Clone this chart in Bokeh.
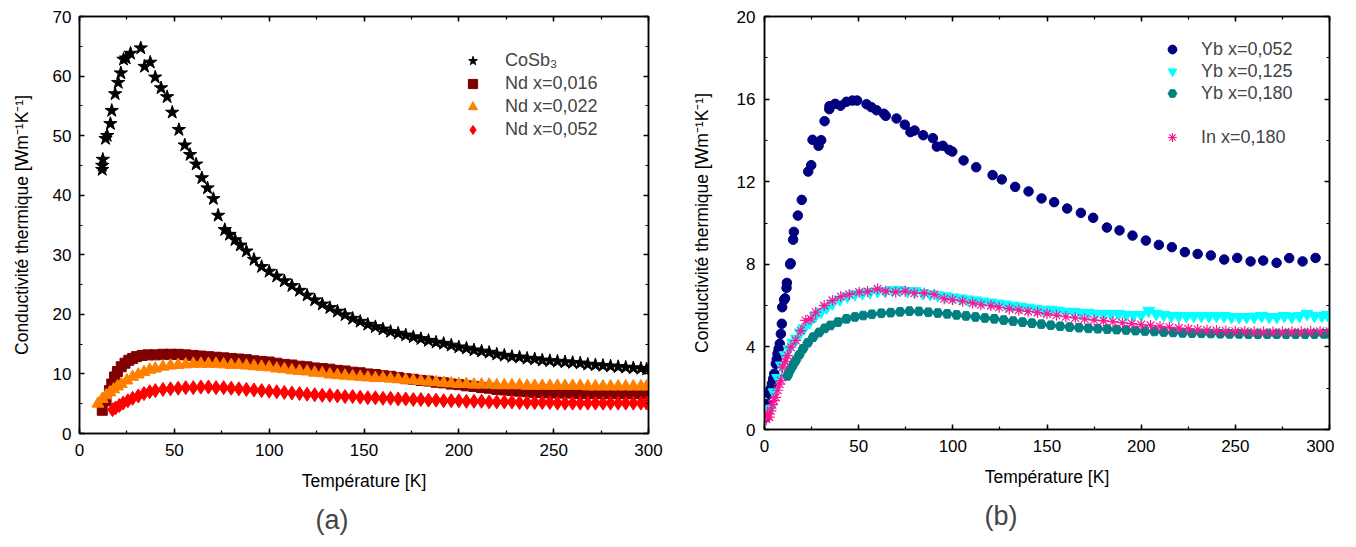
from bokeh.plotting import figure
from bokeh.layouts import row
from bokeh.models import Range1d, LinearAxis, SingleIntervalTicker, Legend, LegendItem, Title
from bokeh.embed import file_html
from bokeh.resources import INLINE

# ---------------- data (a) ----------------
cosb3_T = [12, 12, 12.3, 13.7, 14.6, 16.3, 17, 18.8, 20.4, 21.8, 23.2, 24.6, 26.9, 32.3, 34.3, 37.3,
           39.9, 43, 46.2, 48.9, 52.4, 55.5, 58.3, 61.5, 64.5, 67.5, 70.6, 73.1, 76.6, 79.1, 82, 84.8,
           88, 92, 96, 100, 104, 108, 112, 116, 120, 124, 128, 132, 136, 140, 144, 148, 152, 156, 160,
           164, 168, 172, 176, 180, 184, 188, 192, 196, 200, 204, 208, 212, 216, 220, 224, 228, 232,
           236, 240, 244, 248, 252, 256, 260, 264, 268, 272, 276, 280, 284, 288, 292, 296, 299]
cosb3_k = [44.3, 45, 46, 49.5, 50, 52, 54.2, 57, 58.9, 60.5, 62.8, 63, 63.8, 64.7, 61.6, 62.3,
           59.8, 58, 56.5, 53.9, 51, 48.4, 46.8, 45.2, 42.9, 41.2, 39.4, 36.6, 34.2, 33.4, 32.5, 31.6,
           30.6, 29.2, 28.0, 27.2, 26.4, 25.6, 24.8, 24.0, 23.2, 22.4, 21.7, 21.1, 20.5, 19.9, 19.3, 18.8,
           18.3, 17.9, 17.5, 17.1, 16.8, 16.5, 16.2, 15.9, 15.6, 15.3, 15.1, 14.8, 14.5, 14.3, 14.0, 13.8,
           13.6, 13.3, 13.1, 12.9, 12.8, 12.6, 12.5, 12.3, 12.2, 12.1, 12.0, 11.9, 11.8, 11.6, 11.5, 11.4,
           11.3, 11.2, 11.1, 11.0, 10.9, 10.8]

nd016_T = [12, 14, 15.8, 17, 18.5, 20, 22, 24, 26, 28, 30, 33, 36, 40, 44, 48, 52, 56, 60, 64, 68, 72,
           76, 80, 84, 88, 92, 96, 100, 104, 108, 112, 116, 120, 124, 128, 132, 136, 140, 144, 148, 152,
           156, 160, 164, 168, 172, 176, 180, 184, 188, 192, 196, 200, 204, 208, 212, 216, 220, 224, 228,
           232, 236, 240, 244, 248, 252, 256, 260, 264, 268, 272, 276, 280, 284, 288, 292, 296, 299]
nd016_k = [3.9, 5.5, 7.2, 8.3, 9.5, 10.4, 11.2, 11.8, 12.3, 12.6, 12.9, 13.1, 13.2, 13.2, 13.3, 13.3,
           13.3, 13.2, 13.1, 13.0, 12.9, 12.8, 12.7, 12.6, 12.5, 12.4, 12.2, 12.1, 12.0, 11.8, 11.6, 11.5,
           11.3, 11.2, 11.0, 10.9, 10.8, 10.6, 10.5, 10.3, 10.2, 10.0, 9.9, 9.7, 9.6, 9.4, 9.2, 9.1, 8.9,
           8.8, 8.6, 8.5, 8.3, 8.2, 8.0, 7.9, 7.7, 7.6, 7.4, 7.3, 7.2, 7.1, 7.0, 6.9, 6.9, 6.8, 6.8, 6.8,
           6.8, 6.7, 6.7, 6.7, 6.7, 6.7, 6.7, 6.7, 6.7, 6.7, 6.7]

nd022_T = [9.7, 12, 14, 16, 18, 20, 22, 25, 28, 31, 34, 37, 40, 44, 48, 52, 56, 60, 64, 68, 72, 76, 80,
           84, 88, 92, 96, 100, 104, 108, 112, 116, 120, 124, 128, 132, 136, 140, 144, 148, 152, 156,
           160, 164, 168, 172, 176, 180, 184, 188, 192, 196, 200, 204, 208, 212, 216, 220, 224, 228, 232,
           236, 240, 244, 248, 252, 256, 260, 264, 268, 272, 276, 280, 284, 288, 292, 296, 299]
nd022_k = [5.0, 5.8, 6.4, 6.9, 7.4, 7.9, 8.3, 8.9, 9.5, 9.9, 10.3, 10.7, 10.9, 11.2, 11.4, 11.5, 11.6,
           11.7, 11.7, 11.7, 11.7, 11.6, 11.5, 11.5, 11.4, 11.3, 11.2, 11.1, 10.9, 10.8, 10.6, 10.5, 10.4,
           10.2, 10.1, 9.9, 9.8, 9.7, 9.6, 9.5, 9.4, 9.3, 9.3, 9.2, 9.1, 9.0, 8.9, 8.8, 8.7, 8.6, 8.5,
           8.4, 8.3, 8.3, 8.2, 8.2, 8.2, 8.1, 8.1, 8.1, 8.1, 8.0, 8.0, 8.0, 8.0, 8.0, 8.0, 8.0, 8.0, 7.9,
           7.9, 7.9, 7.9, 7.9, 7.9, 7.9, 7.9, 7.9]

nd052_T = [17.4, 19, 21, 23, 25.5, 28, 31, 34, 37, 40, 44, 48, 52, 56, 60, 64, 68, 72, 76, 80, 84, 88,
           92, 96, 100, 104, 108, 112, 116, 120, 124, 128, 132, 136, 140, 144, 148, 152, 156, 160, 164,
           168, 172, 176, 180, 184, 188, 192, 196, 200, 204, 208, 212, 216, 220, 224, 228, 232, 236, 240,
           244, 248, 252, 256, 260, 264, 268, 272, 276, 280, 284, 288, 292, 296, 299]
nd052_k = [4.0, 4.3, 4.7, 5.1, 5.5, 5.9, 6.3, 6.7, 7.0, 7.2, 7.4, 7.5, 7.6, 7.7, 7.7, 7.8, 7.8, 7.7,
           7.7, 7.6, 7.5, 7.4, 7.3, 7.2, 7.1, 7.0, 6.9, 6.8, 6.7, 6.6, 6.5, 6.4, 6.4, 6.3, 6.2, 6.2, 6.1,
           6.0, 6.0, 5.9, 5.9, 5.8, 5.8, 5.7, 5.7, 5.6, 5.6, 5.5, 5.5, 5.5, 5.4, 5.4, 5.4, 5.3, 5.3, 5.3,
           5.3, 5.2, 5.2, 5.2, 5.2, 5.2, 5.1, 5.1, 5.1, 5.1, 5.1, 5.1, 5.1, 5.1, 5.1, 5.1, 5.1, 5.1, 5.1]

# ---------------- data (b) ----------------
yb052_T = [1.0, 1.6, 2.5, 3.2, 3.9, 4.6, 5.2, 6.0, 6.5, 6.9, 7.5, 8.1, 8.7, 9.2, 9.4, 10.4, 10.9, 11.7,
           11.9, 13.6, 13.9, 15.2, 15.6, 17.7, 19.8, 23.2, 24.8, 25.5, 28.7, 30.1, 31.9, 34.4, 34.5, 37.5,
           40.4, 43.5, 46.7, 49.2, 54.2, 56.7, 59.5, 63.4, 64.4, 70.1, 74.5, 77.5, 79.7, 84.3, 89.4, 91.5,
           94.7, 98.1, 99.7, 105.7, 112.4, 121.1, 126, 133.1, 140.2, 147.1, 153.8, 160.7, 168, 174.5,
           181.8, 188.5, 195.4, 202.5, 209.4, 216.3, 223.2, 230, 237, 244.1, 251, 258.1, 264.8, 271.9,
           278.6, 285.7, 292.6]
yb052_k = [0.6, 1.24, 1.73, 1.95, 2.21, 2.45, 2.7, 3.18, 3.4, 3.67, 3.9, 4.15, 4.63, 5.12, 5.92, 6.28,
           6.35, 6.86, 7.1, 8.0, 8.05, 9.19, 9.57, 10.36, 11.12, 12.49, 12.8, 14.03, 13.74, 14.01, 14.93,
           15.51, 15.66, 15.77, 15.68, 15.87, 15.93, 15.93, 15.75, 15.61, 15.46, 15.29, 15.19, 15.06,
           14.76, 14.4, 14.48, 14.25, 14.11, 13.7, 13.74, 13.54, 13.46, 13.03, 12.7, 12.32, 12.11, 11.75,
           11.53, 11.19, 11.01, 10.7, 10.49, 10.25, 9.78, 9.64, 9.39, 9.15, 8.94, 8.83, 8.59, 8.5, 8.43,
           8.23, 8.31, 8.14, 8.18, 8.07, 8.3, 8.14, 8.31]

yb125_T = [3, 5, 7, 9, 11, 13, 15, 17, 19, 21, 24, 27, 30, 33, 36, 40, 44, 48, 52, 56, 60, 64, 68, 72,
           76, 80, 84, 88, 92, 96, 100, 104, 108, 112, 116, 120, 124, 128, 132, 136, 140, 144, 148, 152,
           156, 160, 164, 168, 172, 176, 180, 184, 188, 192, 196, 200, 204, 208, 212, 216, 220, 224, 228,
           232, 236, 240, 244, 248, 252, 256, 260, 264, 268, 272, 276, 280, 284, 288, 292, 296, 299]
yb125_k = [1.0, 1.8, 2.5, 3.1, 3.6, 3.9, 4.2, 4.4, 4.7, 4.9, 5.2, 5.5, 5.7, 5.9, 6.1, 6.3, 6.45, 6.55,
           6.6, 6.65, 6.7, 6.7, 6.75, 6.75, 6.7, 6.7, 6.6, 6.55, 6.5, 6.45, 6.4, 6.35, 6.3, 6.25, 6.2,
           6.15, 6.1, 6.05, 6.0, 5.95, 5.9, 5.85, 5.8, 5.8, 5.75, 5.7, 5.7, 5.65, 5.65, 5.6, 5.6, 5.6, 5.6,
           5.55, 5.55, 5.55, 5.75, 5.6, 5.55, 5.5, 5.5, 5.5, 5.5, 5.5, 5.5, 5.5, 5.5, 5.45, 5.45, 5.45,
           5.45, 5.5, 5.45, 5.45, 5.5, 5.45, 5.5, 5.6, 5.5, 5.5, 5.55]

yb180_T = [12.2, 13, 14, 15, 16.6, 18.5, 20.5, 23, 25.8, 29, 32, 35, 39, 43.5, 48, 52.4, 57, 62, 67, 72,
           77, 82, 87, 92, 97, 102, 107, 112, 117, 122, 127, 132, 137, 142, 147, 152, 157, 162, 167, 172,
           177, 182, 187, 192, 197, 202, 207, 212, 217, 222, 227, 232, 237, 242, 247, 252, 257, 262, 267,
           272, 277, 282, 287, 292, 297, 300]
yb180_k = [2.6, 2.78, 2.95, 3.1, 3.34, 3.62, 3.91, 4.2, 4.47, 4.7, 4.9, 5.04, 5.2, 5.36, 5.45, 5.52,
           5.58, 5.63, 5.66, 5.7, 5.73, 5.72, 5.68, 5.64, 5.6, 5.55, 5.5, 5.45, 5.4, 5.36, 5.3, 5.25, 5.2,
           5.15, 5.1, 5.05, 5.0, 4.96, 4.93, 4.9, 4.88, 4.86, 4.84, 4.82, 4.79, 4.77, 4.75, 4.72, 4.7,
           4.68, 4.67, 4.66, 4.65, 4.64, 4.63, 4.63, 4.62, 4.62, 4.62, 4.62, 4.62, 4.62, 4.62, 4.62, 4.63,
           4.64]

in180_T = [1.0, 1.6, 2.5, 3.4, 4.2, 5.0, 6.0, 7.0, 8.0, 8.7, 9.6, 11, 12.2, 14, 16.6, 19.3, 21.9, 24.6,
           27.2, 31.7, 36.1, 40.5, 45, 50.3, 54.7, 60, 64.4, 69.7, 74.7, 79.5, 84.8, 90.1, 95.4, 99.8,
           105.2, 110.5, 114.9, 120.2, 124.6, 130, 135, 140, 145, 150, 155, 160, 165, 170, 175, 180, 185,
           190, 195, 200, 205, 210, 215, 220, 225, 230, 235, 240, 245, 250, 255, 260, 265, 270, 275, 280,
           285, 290, 295, 300]
in180_k = [0.5, 0.76, 0.6, 0.9, 1.2, 1.4, 1.56, 1.9, 2.2, 2.37, 3.02, 3.3, 3.58, 3.99, 4.31, 4.79, 5.28,
           5.36, 5.68, 6.0, 6.25, 6.44, 6.54, 6.65, 6.68, 6.81, 6.7, 6.65, 6.7, 6.6, 6.6, 6.54, 6.33, 6.28,
           6.21, 6.12, 6.04, 6.0, 5.92, 5.84, 5.78, 5.72, 5.66, 5.6, 5.53, 5.46, 5.4, 5.35, 5.3, 5.26, 5.22,
           5.17, 5.13, 5.08, 5.04, 4.99, 4.95, 4.91, 4.87, 4.84, 4.81, 4.79, 4.77, 4.76, 4.75, 4.73, 4.72,
           4.72, 4.72, 4.73, 4.73, 4.74, 4.75, 4.76]

FONT = "Liberation Sans"
XLABEL = "Température [K]"
YLABEL = "Conductivité thermique [Wm⁻¹K⁻¹]"


def make_fig(ymax, yint, fw, fh, bl, br, bb, tick_standoff, ylab_standoff):
    p = figure(output_backend="svg", toolbar_location=None,
               frame_width=fw, frame_height=fh,
               min_border_left=bl, min_border_right=br, min_border_top=16, min_border_bottom=bb,
               x_range=Range1d(0, 300), y_range=Range1d(0, ymax),
               x_axis_label=XLABEL, y_axis_label=YLABEL)
    p.grid.visible = False
    p.outline_line_color = "black"
    p.outline_line_width = 1.5
    p.xaxis.ticker = SingleIntervalTicker(interval=50, num_minor_ticks=2)
    p.yaxis.ticker = SingleIntervalTicker(interval=yint, num_minor_ticks=2)
    for ax in (p.xaxis[0], p.yaxis[0]):
        ax.major_tick_in = 5
        ax.major_tick_out = 0
        ax.minor_tick_in = 3
        ax.minor_tick_out = 0
        ax.axis_line_width = 1.5
        ax.major_tick_line_width = 1.5
        ax.minor_tick_line_width = 1.2
        ax.major_label_text_font = FONT
        ax.major_label_text_font_size = "17px"
        ax.major_label_text_color = "black"
        ax.axis_label_text_font = FONT
        ax.axis_label_text_font_size = "17.5px"
        ax.axis_label_text_font_style = "normal"
        ax.axis_label_text_color = "black"
    p.xaxis.major_label_standoff = 10
    p.xaxis.axis_label_standoff = 12
    p.yaxis.major_label_standoff = tick_standoff
    p.yaxis.axis_label_standoff = ylab_standoff
    # mirrored axes (ticks only, no labels)
    for side, tick in (("above", SingleIntervalTicker(interval=50, num_minor_ticks=2)),
                       ("right", SingleIntervalTicker(interval=yint, num_minor_ticks=2))):
        ax = LinearAxis(ticker=tick, major_label_text_font_size="0px", major_label_text_color=None,
                        major_label_standoff=0,
                        major_tick_in=5, major_tick_out=0, minor_tick_in=3, minor_tick_out=0,
                        axis_line_width=1.5, major_tick_line_width=1.5, minor_tick_line_width=1.2)
        p.add_layout(ax, side)
    return p


# ---------------- panel (a) ----------------
p1 = make_fig(70, 10, 569, 417, 79, 40, 98, 8, 18)
r_cosb = p1.scatter(cosb3_T, cosb3_k, marker="star", size=14, fill_color="black", line_color="black")
r_n16 = p1.scatter(nd016_T, nd016_k, marker="square", size=10, fill_color="#800000", line_color="#800000")
r_n22 = p1.scatter(nd022_T, nd022_k, marker="triangle", size=12, fill_color="#FF8000", line_color="#FF8000")
r_n52 = p1.scatter(nd052_T, nd052_k, marker="diamond", size=14, fill_color="#FF0000", line_color="#FF0000")

leg1 = Legend(items=[LegendItem(label="CoSb₃", renderers=[r_cosb]),
                     LegendItem(label="Nd x=0,016", renderers=[r_n16]),
                     LegendItem(label="Nd x=0,022", renderers=[r_n22]),
                     LegendItem(label="Nd x=0,052", renderers=[r_n52])],
              location=(382, 292), background_fill_alpha=0, border_line_alpha=0,
              padding=0, margin=0, spacing=0, glyph_width=23, glyph_height=23, label_height=23,
              label_standoff=21, label_text_font=FONT, label_text_font_size="18px")
p1.add_layout(leg1)
p1.add_layout(Title(text="(a)", align="left", offset=236, text_font=FONT, text_font_size="27px",
                    text_font_style="normal", standoff=19), "below")

# ---------------- panel (b) ----------------
p2 = make_fig(20, 4, 565, 413, 73, 5, 102, 9, 22)
r_y052 = p2.scatter(yb052_T, yb052_k, marker="circle", size=9.5, fill_color="#000080", line_color="#000080")
r_y125 = p2.scatter(yb125_T, yb125_k, marker="inverted_triangle", size=12, fill_color="#00FFFF",
                    line_color="#00FFFF")
r_y180 = p2.scatter(yb180_T, yb180_k, marker="hex", size=10, fill_color="#008080", line_color="#008080")
p2.line(in180_T, in180_k, line_color="#FF1493", line_width=1)
r_in = p2.scatter(in180_T, in180_k, marker="asterisk", size=11, line_color="#FF1493", line_width=1.2)
r_blank = p2.scatter([], [], marker="circle", size=1, fill_alpha=0, line_alpha=0)

leg2 = Legend(items=[LegendItem(label="Yb x=0,052", renderers=[r_y052]),
                     LegendItem(label="Yb x=0,125", renderers=[r_y125]),
                     LegendItem(label="Yb x=0,180", renderers=[r_y180]),
                     LegendItem(label=" ", renderers=[r_blank]),
                     LegendItem(label="In x=0,180", renderers=[r_in])],
              location=(397, 281), background_fill_alpha=0, border_line_alpha=0,
              padding=0, margin=0, spacing=0, glyph_width=22, glyph_height=22, label_height=22,
              label_standoff=18, label_text_font=FONT, label_text_font_size="18px")
p2.add_layout(leg2)
p2.add_layout(Title(text="(b)", align="left", offset=220, text_font=FONT, text_font_size="27px",
                    text_font_style="normal", standoff=19), "below")

layout = row(p1, p2)
open("out.html", "w").write(file_html(layout, INLINE))
